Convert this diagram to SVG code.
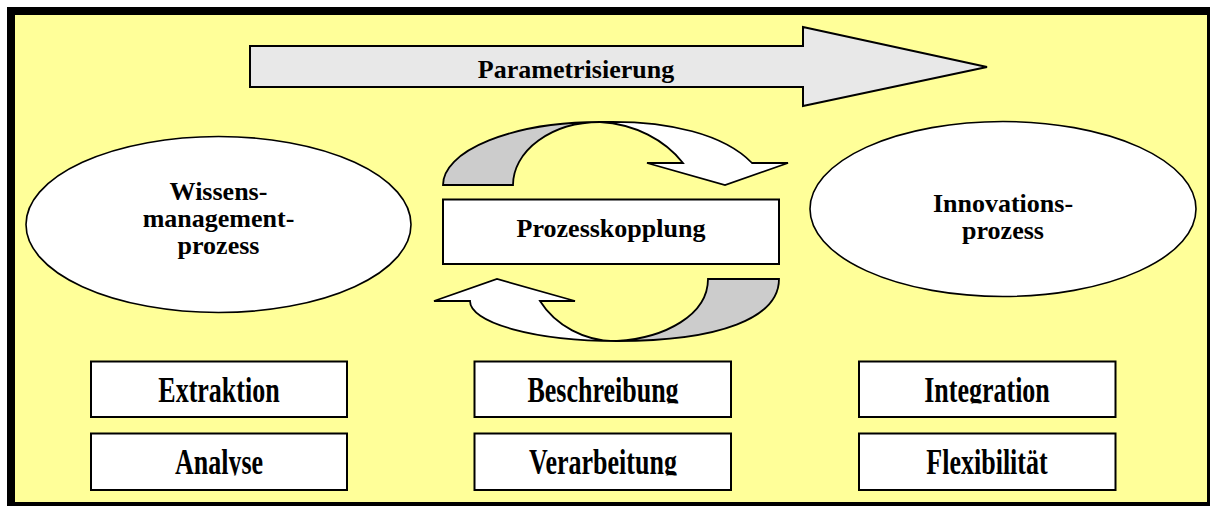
<svg xmlns="http://www.w3.org/2000/svg" width="1210" height="506" viewBox="0 0 1210 506">
<style>
  .t { font-family: "Liberation Serif", "Times New Roman", serif; font-weight: bold; font-size: 26px; fill: #000; text-anchor: middle; }
  .box { fill: #fff; stroke: #000; stroke-width: 2; }
  .ell { fill: #fff; stroke: #000; stroke-width: 1.6; }
  .cw { fill: #fff; stroke: #000; stroke-width: 1.8; stroke-linejoin: miter; }
  .cg { fill: #cccccc; stroke: #000; stroke-width: 1.8; }
</style>
<defs>
  <clipPath id="clipRow1"><rect x="0" y="0" width="1210" height="403.5"/></clipPath>
  <clipPath id="clipRow2"><rect x="0" y="0" width="1210" height="475.5"/></clipPath>
  <clipPath id="clipPar"><rect x="0" y="0" width="1210" height="84"/></clipPath>
</defs>
<rect x="0" y="0" width="1210" height="506" fill="#fff"/>
<g id="frame">
  <rect x="7" y="7" width="1203" height="499" fill="#000"/>
  <rect x="15" y="15" width="1192" height="487" fill="#ffff99"/>
</g>
<g id="parametrisierung">
  <polygon points="250,46 803,46 803,27 987,67 803,106 803,87 250,87" fill="#e8e8e8" stroke="#000" stroke-width="2"/>
  <text class="t" x="576" y="78" clip-path="url(#clipPar)">Parametrisierung</text>
</g>
<g id="connectors">
  <path class="cg" d="M443,185 A157,63 0 0 1 600,122 A87,63 0 0 0 513,185 Z"/>
  <path class="cw" d="M600,122 C670,120 725,135 752,163 L788,163 L725,185 L647,163 L683,163 C665,140 635,124 600,122 Z"/>
  <path class="cg" d="M708,279 L779,279 C779,318 720,341 617,341 C665,338 708,315 708,279 Z"/>
  <path class="cw" d="M617,341 C585,342 555,325 540,301 L575,301 L497,279 L434,301 L470,301 A147,40 0 0 0 617,341 Z"/>
</g>
<g id="wissensmanagement">
  <ellipse class="ell" cx="218.5" cy="224.5" rx="192.5" ry="88"/>
  <text class="t" x="218.5" y="200">Wissens-</text>
  <text class="t" x="218.5" y="226.5">management-</text>
  <text class="t" x="218.5" y="253.5">prozess</text>
</g>
<g id="innovationsprozess">
  <ellipse class="ell" cx="1003" cy="209" rx="193" ry="87.5"/>
  <text class="t" x="1003" y="211.5">Innovations-</text>
  <text class="t" x="1003" y="238.5">prozess</text>
</g>
<g id="prozesskopplung">
  <rect class="box" x="443" y="199.5" width="336" height="64.5"/>
  <text class="t" x="611" y="237">Prozesskopplung</text>
</g>
<g id="extraktion">
  <rect class="box" x="91" y="361.5" width="256" height="55.5"/>
  <g clip-path="url(#clipRow1)"><text class="t" transform="translate(219,402) scale(1,1.35)">Extraktion</text></g>
</g>
<g id="analyse">
  <rect class="box" x="91" y="433.5" width="256" height="56.5"/>
  <g clip-path="url(#clipRow2)"><text class="t" transform="translate(219,474) scale(1,1.35)">Analyse</text></g>
</g>
<g id="beschreibung">
  <rect class="box" x="474.5" y="361.5" width="256.5" height="55.5"/>
  <g clip-path="url(#clipRow1)"><text class="t" transform="translate(603,402) scale(1,1.35)">Beschreibung</text></g>
</g>
<g id="verarbeitung">
  <rect class="box" x="474.5" y="433.5" width="256.5" height="56.5"/>
  <g clip-path="url(#clipRow2)"><text class="t" transform="translate(603,474) scale(1,1.35)">Verarbeitung</text></g>
</g>
<g id="integration">
  <rect class="box" x="859" y="361.5" width="256.5" height="55.5"/>
  <g clip-path="url(#clipRow1)"><text class="t" transform="translate(987,402) scale(1,1.35)">Integration</text></g>
</g>
<g id="flexibilitaet">
  <rect class="box" x="859" y="433.5" width="256.5" height="56.5"/>
  <g clip-path="url(#clipRow2)"><text class="t" transform="translate(987,474) scale(1,1.35)">Flexibilität</text></g>
</g>
</svg>
